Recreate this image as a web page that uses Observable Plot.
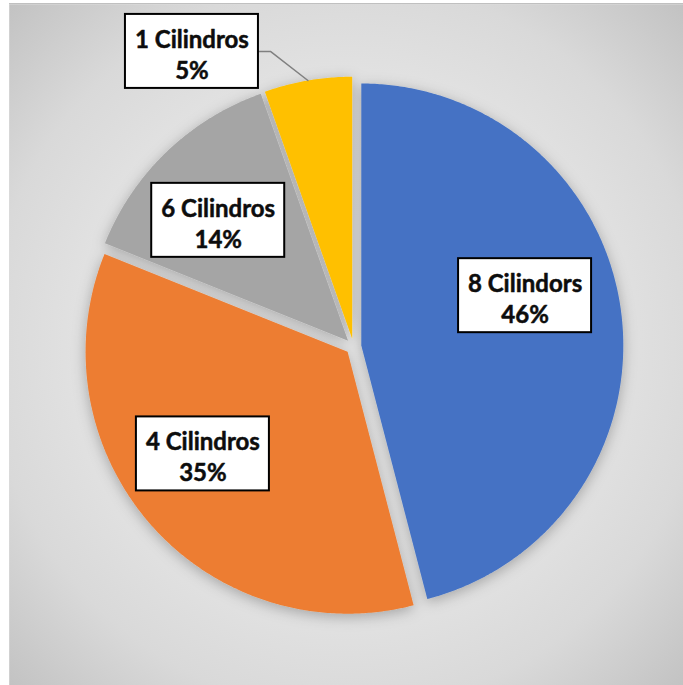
<!DOCTYPE html>
<html>
<head>
<meta charset="utf-8">
<script src="https://cdn.jsdelivr.net/npm/d3@7"></script>
<script src="https://cdn.jsdelivr.net/npm/@observablehq/plot@0.6"></script>
<style>
  html, body { margin: 0; padding: 0; background: #ffffff; }
  #wrap { position: absolute; left: 9px; top: 3px; }
  #wrap svg { display: block; border-top: 1px solid #c0c0c0; }
</style>
</head>
<body>
<div id="wrap"></div>
<script>
// ---- data ----
const categories = ["8 Cilindors", "4 Cilindros", "6 Cilindros", "1 Cilindros"];
const shares = [17, 13, 5, 2]; // 45.9%, 35.1%, 13.5%, 5.4%
const colors = ["#4472C4", "#ED7D31", "#A5A5A5", "#FFC000"];

// ---- layout (not data) ----
const W = 674, H = 682;
const R = 262;            // pie radius in px
const CX = 344, CY = 342; // pie centre in px (svg coords)
const explode = 0.03;     // explosion distance, fraction of radius
const labelAngles = [73.5, 234.5, 313, 331.3]; // degrees clockwise from top
const labelRadii = [0.683, 0.706, 0.706, 1.284];
const boxW = 133, boxH = 74;
const outside = [false, false, false, true];

const total = d3.sum(shares);
const rad = d => d * Math.PI / 180;
const pt = (a, r) => [Math.sin(a) * r, Math.cos(a) * r]; // y up

const arcs = d3.pie().sort(null).value(d => d.v)(categories.map((c, i) => ({c, v: shares[i], i})));

const slicePts = [];
const apexes = [];
arcs.forEach(a => {
  const mid = (a.startAngle + a.endAngle) / 2;
  const [ox, oy] = pt(mid, explode);
  apexes.push([ox, oy, mid]);
  slicePts.push({k: a.data.c, x: ox, y: oy});
  const n = Math.max(8, Math.ceil((a.endAngle - a.startAngle) / rad(0.5)));
  for (let j = 0; j <= n; j++) {
    const t = a.startAngle + (a.endAngle - a.startAngle) * j / n;
    const [px, py] = pt(t, 1);
    slicePts.push({k: a.data.c, x: ox + px, y: oy + py});
  }
});

const labels = categories.map((c, i) => {
  const [x, y] = pt(rad(labelAngles[i]), labelRadii[i]);
  const pct = Math.round(shares[i] / total * 100) + "%";
  return {c, text: c + "\n" + pct, x, y,
    x1: x - boxW / 2 / R, x2: x + boxW / 2 / R,
    y1: y - boxH / 2 / R, y2: y + boxH / 2 / R};
});

const leaders = [];
labels.forEach((l, i) => {
  if (!outside[i]) return;
  const [ox, oy, mid] = apexes[i];
  const [px, py] = pt(mid, 1);
  leaders.push({k: l.c, x: ox + px, y: oy + py});
  leaders.push({k: l.c, x: l.x2 + 12 / R, y: l.y});
  leaders.push({k: l.c, x: l.x2, y: l.y});
});

const chart = Plot.plot({
  width: W,
  height: H,
  margin: 0,
  x: {domain: [-1, 1], range: [CX - R, CX + R], axis: null},
  y: {domain: [-1, 1], range: [CY + R, CY - R], axis: null},
  color: {domain: categories, range: colors},
  style: {background: "#dcdcdc", fontFamily: "Lato, sans-serif"},
  marks: [
    Plot.frame({fill: "url(#bgGrad)", stroke: "none"}),
    Plot.line(slicePts, {x: "x", y: "y", z: "k", fill: "k", stroke: "none", curve: "linear-closed"}),
    Plot.line(leaders, {x: "x", y: "y", z: "k", stroke: "#808080", strokeWidth: 1.5, curve: "linear"}),
    Plot.rect(labels, {x1: "x1", x2: "x2", y1: "y1", y2: "y2", fill: "#ffffff", stroke: "#000000", strokeWidth: 2}),
    Plot.text(labels, {x: "x", y: "y", text: "text", fontSize: 24, fontWeight: "bold",
      fontFamily: "Lato, sans-serif", lineHeight: 1.3, dy: 2, fill: "#0d0d0d",
      stroke: "#0d0d0d", strokeWidth: 0.5})
  ]
});

const svg = d3.select(chart);
const defs = svg.insert("defs", ":first-child");
const g = defs.append("radialGradient").attr("id", "bgGrad")
  .attr("cx", "50%").attr("cy", "50%").attr("r", "71%");
[[0, "#e8e8e8"], [0.5, "#e4e4e4"], [0.75, "#d9d9d9"], [1, "#c2c2c2"]].forEach(([o, c]) =>
  g.append("stop").attr("offset", o).attr("stop-color", c));
const f = defs.append("filter").attr("id", "pieShadow")
  .attr("x", "-20%").attr("y", "-20%").attr("width", "140%").attr("height", "140%");
f.append("feDropShadow").attr("dx", 0).attr("dy", 3).attr("stdDeviation", 7)
  .attr("flood-color", "#000").attr("flood-opacity", 0.28);
svg.selectAll("g[aria-label='line']").filter((d, i) => i === 0).attr("filter", "url(#pieShadow)");

document.getElementById("wrap").appendChild(chart);
</script>
</body>
</html>
